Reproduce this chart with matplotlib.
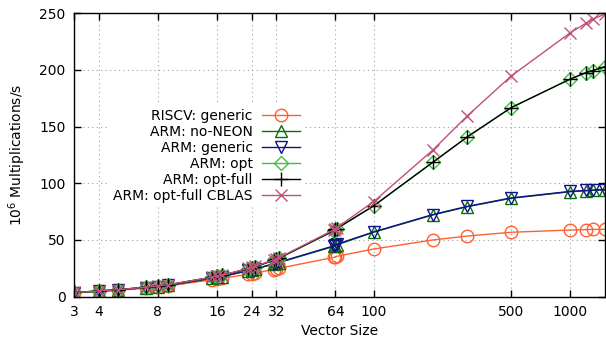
#!/usr/bin/env python3
"""
Throughput of vector multiplication, RISCV vs ARM variants.
"""

import matplotlib
matplotlib.use("Agg")
import matplotlib.pyplot as plt
from matplotlib.ticker import FixedLocator, NullLocator, FixedFormatter

# vector sizes
sizes = [3, 4, 5, 7, 8, 9, 15, 16, 17, 23, 24, 25, 31, 32, 33,
         63, 64, 65, 100, 200, 300, 500, 1000, 1200, 1300, 1500]

# 10^6 multiplications per second
riscv_generic = [3.4, 4.5, 5.5, 7.4, 8.3, 9.2, 14.8, 15.4, 16.0, 19.6, 20.2, 20.8,
                 23.8, 24.4, 24.9, 34.6, 35.0, 35.5, 41.9, 49.9, 53.4, 56.7,
                 58.7, 59.0, 59.2, 59.3]
arm_no_neon = [3.5, 4.7, 5.8, 7.9, 8.8, 9.8, 16.0, 16.8, 17.5, 22.8, 23.5, 24.2,
               28.6, 29.3, 29.9, 44.3, 45.0, 45.6, 56.7, 72.0, 79.3, 86.7,
               92.5, 93.3, 93.7, 94.0]
arm_generic = [3.5, 4.7, 5.8, 7.9, 8.8, 9.8, 16.1, 16.9, 17.6, 23.0, 23.7, 24.4,
               28.9, 29.6, 30.2, 44.8, 45.5, 46.1, 57.0, 72.3, 79.6, 87.0,
               92.8, 93.6, 94.0, 94.4]
arm_opt = [3.6, 4.8, 6.0, 8.2, 9.2, 10.3, 16.8, 17.7, 18.6, 24.4, 25.3, 26.2,
           31.8, 32.8, 33.6, 58.0, 59.0, 59.8, 80.0, 118.5, 141.0, 166.7,
           192.0, 197.6, 199.5, 202.5]
arm_opt_full = [3.6, 4.8, 6.0, 8.2, 9.2, 10.3, 16.9, 17.8, 18.7, 24.5, 25.4, 26.3,
                32.0, 33.0, 33.8, 58.3, 59.3, 60.0, 80.0, 118.5, 141.0, 166.7,
                192.0, 197.6, 199.5, 202.9]
arm_cblas = [3.6, 4.8, 6.0, 8.2, 9.2, 10.3, 17.0, 17.9, 18.8, 24.8, 25.7, 26.6,
             32.4, 33.4, 34.2, 59.0, 60.0, 60.8, 83.7, 129.3, 159.6, 194.6,
             232.9, 241.2, 244.7, 249.4]

xticks = [3, 4, 8, 16, 24, 32, 64, 100, 500, 1000]
yticks = [0, 50, 100, 150, 200, 250]

series = [
    ("RISCV: generic", riscv_generic, "#ff6030", "o", 9),
    ("ARM: no-NEON", arm_no_neon, "#087008", "^", 8),
    ("ARM: generic", arm_generic, "#10108c", "v", 8),
    ("ARM: opt", arm_opt, "#40c040", "D", 7),
    ("ARM: opt-full", arm_opt_full, "#000000", "+", 10),
    ("ARM: opt-full CBLAS", arm_cblas, "#c0507a", "x", 9),
]

plt.rcParams["font.family"] = ["DejaVu Sans"]
plt.rcParams["font.size"] = 10

fig = plt.figure(figsize=(6.06, 3.52), dpi=100)
ax = fig.add_axes([74 / 606, 1 - 296.5 / 352, 531 / 606, 283.2 / 352])

for label, vals, color, marker, ms in series:
    ax.plot(sizes, vals, color=color, lw=1.0, marker=marker, ms=ms,
            mfc="none", mec=color, mew=1.0, label=label)

ax.set_xscale("log")
ax.set_xlim(3, 1500)
ax.set_ylim(0, 250)
ax.xaxis.set_major_locator(FixedLocator(xticks))
ax.xaxis.set_major_formatter(FixedFormatter([str(t) for t in xticks]))
ax.xaxis.set_minor_locator(NullLocator())
ax.set_yticks(yticks)

ax.tick_params(direction="in", top=True, right=True, length=5, width=1,
               labelsize=10, pad=6)
ax.grid(True, color="#a0a0a0", lw=0.8, ls=(0, (1, 3)))
ax.set_axisbelow(True)
for sp in ax.spines.values():
    sp.set_linewidth(1.0)

ax.set_xlabel("Vector Size", fontsize=10, labelpad=4)
ax.set_ylabel("10$^6$ Multiplications/s", fontsize=10, labelpad=8)

leg = ax.legend(loc="upper right", bbox_to_anchor=(0.433, 0.678),
                markerfirst=False, frameon=True, facecolor="white",
                edgecolor="none", framealpha=1.0, fancybox=False,
                handlelength=2.7, handletextpad=0.7, labelspacing=0.15,
                borderpad=0.3, borderaxespad=0.0, fontsize=10)

fig.savefig("out.png", dpi=100)
